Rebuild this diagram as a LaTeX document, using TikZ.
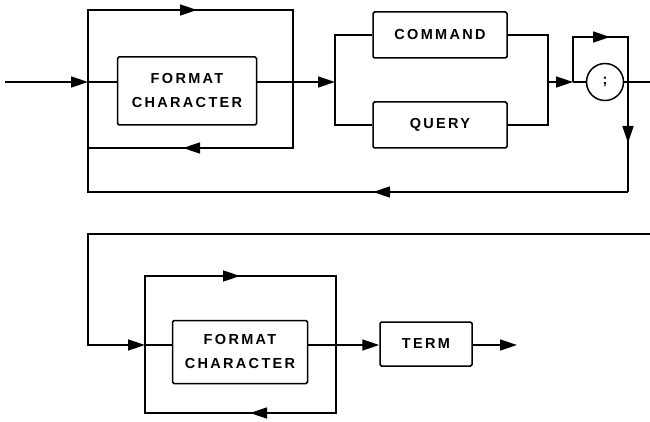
\documentclass[tikz,border=0pt]{standalone}
\usepackage{fontspec}
\newfontfamily\boxfont[LetterSpace=16]{Liberation Sans}
\usetikzlibrary{arrows.meta,decorations.markings,positioning}

\begin{document}
\begin{tikzpicture}[x=1pt,y=-1pt,line width=1.5pt,
  box/.style={draw,rounded corners=1.5pt,align=center,inner sep=0pt,font=\boxfont\bfseries\fontsize{14.5}{24}\selectfont},
  circ/.style={draw,circle,minimum size=37pt,inner sep=0pt,font=\boxfont\bfseries\fontsize{14.5}{24}\selectfont},
  tip/.style={-{Triangle[length=17pt,width=11pt]}},
  flow/.style={postaction={decorate},decoration={markings,mark=at position #1 with {\arrow{Triangle[length=17pt,width=11pt]}}}}]
\useasboundingbox (0,0) rectangle (650,422);
% boxes
\node[box,minimum width=139pt,minimum height=68pt] (fmtA) at (187,91) {FORMAT\\CHARACTER};
\node[box,minimum width=134pt,minimum height=46pt] (cmd) at (440,35) {COMMAND};
\node[box,minimum width=134pt,minimum height=46pt] (qry) at (440,125) {QUERY};
\node[circ] (semi) at (605,82) {;};
\node[box,minimum width=135pt,minimum height=63pt] (fmtB) at (240,352) {FORMAT\\CHARACTER};
\node[box,minimum width=92pt,minimum height=44pt] (term) at (426,344) {TERM};
% junctions
\coordinate (start) at (5,82);
\coordinate (joinA) at (88,82);
\coordinate (leaveA) at (293,82);
\coordinate (split) at (335,82);
\coordinate (merge) at (548,82);
\coordinate (joinS) at (573,82);
\coordinate (leaveS) at (628,82);
\coordinate (edgeA) at (650,82);
\coordinate (loopTopA) at (190,10);
\coordinate (loopBotA) at (190,148);
\coordinate (skipS) at (600,37);
\coordinate (turnA) at (628,192);
\coordinate (edgeB) at (650,234);
\coordinate (turnB) at (88,345);
\coordinate (joinB) at (145,345);
\coordinate (leaveB) at (336,345);
\coordinate (loopTopB) at (240,276);
\coordinate (loopBotB) at (240,413);
\coordinate (finish) at (517,345);
% first line
\draw[tip] (start) -- (joinA);
\draw (joinA) -- (joinA -| fmtA.west);
\draw (fmtA.east |- leaveA) -- (leaveA);
\draw[tip] (leaveA) -- (split);
\draw[flow=181pt] (joinA) |- (loopTopA) -| (leaveA);
\draw[flow=176pt] (leaveA) |- (loopBotA) -| (joinA);
\draw (split) |- (cmd);
\draw (split) |- (qry);
\draw (cmd) -| (merge);
\draw (qry) -| (merge);
\draw[tip] (merge) -- (joinS);
\draw (joinS) -- (semi);
\draw (semi) -- (edgeA);
\draw[flow=82pt] (joinS) |- (skipS) -| (leaveS);
\draw[flow=61pt] (leaveS) -- (turnA);
\draw[flow=255pt] (turnA) -| (joinA);
% second line
\draw[tip] (edgeB) -| (turnB) -- (joinB);
\draw (joinB) -- (joinB -| fmtB.west);
\draw (fmtB.east |- leaveB) -- (leaveB);
\draw[flow=164pt] (joinB) |- (loopTopB) -| (leaveB);
\draw[flow=154pt] (leaveB) |- (loopBotB) -| (joinB);
\draw[tip] (leaveB) -- (leaveB -| term.west);
\draw[tip] (term.east |- finish) -- (finish);
\end{tikzpicture}
\end{document}
